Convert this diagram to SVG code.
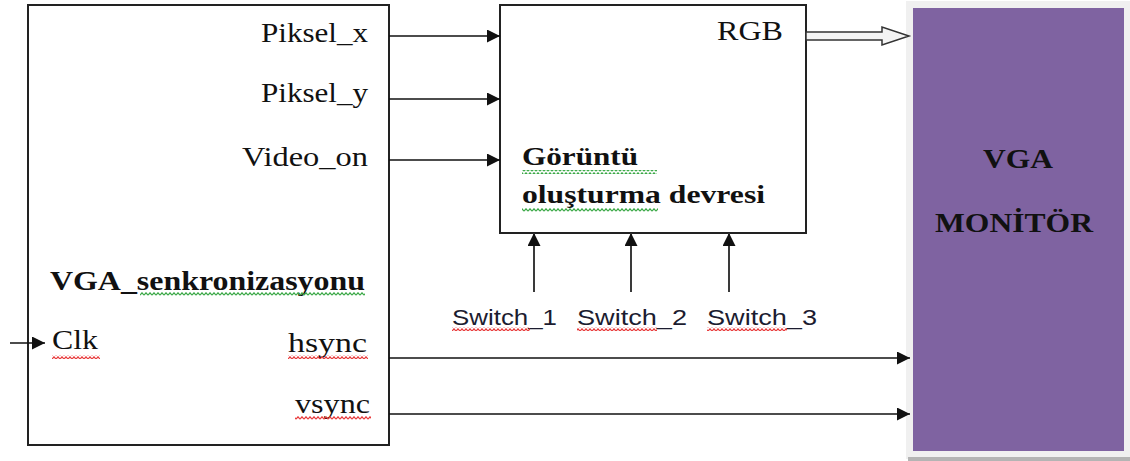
<svg xmlns="http://www.w3.org/2000/svg" width="1130" height="461" viewBox="0 0 1130 461">
  <style>
    .box { fill: #ffffff; stroke: #222222; stroke-width: 2; }
    .wire { fill: none; stroke: #111111; stroke-width: 1.6; }
    .swire { fill: none; stroke: #3a3a3a; stroke-width: 2; }
    .serif { font-family: "Liberation Serif", "Times New Roman", serif; fill: #111111; }
    .bold { font-weight: bold; }
    .sans { font-family: "Liberation Sans", Arial, sans-serif; fill: #1c1c30; font-size: 22px; }
  </style>
  <defs>
    <marker id="headBig" viewBox="0 0 10 10" refX="10" refY="5" markerWidth="15" markerHeight="13" markerUnits="userSpaceOnUse" orient="auto">
      <path d="M0,0 L10,5 L0,10 Z" fill="#111111"/>
    </marker>
    <!-- wavy proofing underlines -->
    <pattern id="waveRed" patternUnits="userSpaceOnUse" width="4" height="4">
      <path d="M0,3.2 L2,0.8 L4,3.2" fill="none" stroke="#e8393a" stroke-width="1.2"/>
    </pattern>
    <pattern id="waveGreen" patternUnits="userSpaceOnUse" width="4" height="4">
      <path d="M0,3.2 L2,0.8 L4,3.2" fill="none" stroke="#3aa846" stroke-width="1.2"/>
    </pattern>
  </defs>

  <!-- VGA sync generator block -->
  <g id="vga-sync">
    <rect class="box" x="28" y="5" width="361" height="440"/>
    <text class="serif" x="261" y="42" font-size="28" textLength="107" lengthAdjust="spacingAndGlyphs">Piksel_x</text>
    <text class="serif" x="261" y="102" font-size="28" textLength="107" lengthAdjust="spacingAndGlyphs">Piksel_y</text>
    <text class="serif" x="242" y="166" font-size="28" textLength="126" lengthAdjust="spacingAndGlyphs">Video_on</text>
    <text class="serif bold" x="50" y="290" font-size="28" textLength="315" lengthAdjust="spacingAndGlyphs">VGA_senkronizasyonu</text>
    <rect x="140" y="292" width="225" height="4" fill="url(#waveGreen)"/>
    <text class="serif" x="52" y="349" font-size="28" textLength="46" lengthAdjust="spacingAndGlyphs">Clk</text>
    <rect x="52" y="355" width="48" height="4" fill="url(#waveRed)"/>
    <text class="serif" x="288" y="352" font-size="28" textLength="79" lengthAdjust="spacingAndGlyphs">hsync</text>
    <rect x="288" y="355" width="80" height="4" fill="url(#waveRed)"/>
    <text class="serif" x="295" y="413" font-size="28" textLength="75" lengthAdjust="spacingAndGlyphs">vsync</text>
    <rect x="295" y="416" width="76" height="4" fill="url(#waveRed)"/>
  </g>

  <!-- image generation circuit -->
  <g id="image-gen">
    <rect class="box" x="500" y="5" width="306" height="228"/>
    <text class="serif" x="717" y="40" font-size="27" textLength="66" lengthAdjust="spacingAndGlyphs">RGB</text>
    <text class="serif bold" x="522" y="165" font-size="26" textLength="116" lengthAdjust="spacingAndGlyphs">Görüntü</text>
    <rect x="522" y="170" width="135" height="4" fill="url(#waveGreen)"/>
    <text class="serif bold" x="522" y="203" font-size="26" textLength="243" lengthAdjust="spacingAndGlyphs">oluşturma devresi</text>
    <rect x="522" y="208" width="136" height="4" fill="url(#waveGreen)"/>
  </g>

  <!-- VGA monitor -->
  <g id="vga-monitor">
    <rect x="906" y="1" width="224" height="458" fill="#f0f0f0"/>
    <rect x="908" y="457" width="222" height="4" fill="#b4b4b4"/>
    <rect x="913" y="8" width="211" height="443" fill="#7f63a1"/>
    <text class="serif bold" x="983" y="168" font-size="27" textLength="70" lengthAdjust="spacingAndGlyphs">VGA</text>
    <text class="serif bold" x="935" y="232" font-size="27" textLength="158" lengthAdjust="spacingAndGlyphs">MONİTÖR</text>
  </g>

  <!-- switch inputs -->
  <g id="switches">
    <text class="sans" x="452" y="325" textLength="105" lengthAdjust="spacingAndGlyphs">Switch_1</text>
    <rect x="452" y="327" width="78" height="4" fill="url(#waveRed)"/>
    <text class="sans" x="577" y="325" textLength="110" lengthAdjust="spacingAndGlyphs">Switch_2</text>
    <rect x="577" y="327" width="80" height="4" fill="url(#waveRed)"/>
    <text class="sans" x="707" y="325" textLength="110" lengthAdjust="spacingAndGlyphs">Switch_3</text>
    <rect x="707" y="327" width="80" height="4" fill="url(#waveRed)"/>
  </g>

  <!-- connectors -->
  <g id="connectors">
    <line class="wire" x1="389" y1="36" x2="500" y2="36" marker-end="url(#headBig)"/>
    <line class="wire" x1="389" y1="99" x2="500" y2="99" marker-end="url(#headBig)"/>
    <line class="wire" x1="389" y1="160" x2="500" y2="160" marker-end="url(#headBig)"/>
    <line class="wire" x1="10" y1="343" x2="45" y2="343" marker-end="url(#headBig)"/>
    <line class="wire" x1="389" y1="358" x2="910" y2="358" marker-end="url(#headBig)"/>
    <line class="wire" x1="389" y1="414" x2="910" y2="414" marker-end="url(#headBig)"/>
    <line class="swire" x1="534" y1="292" x2="534" y2="233" marker-end="url(#headBig)"/>
    <line class="swire" x1="631" y1="292" x2="631" y2="233" marker-end="url(#headBig)"/>
    <line class="swire" x1="729" y1="292" x2="729" y2="233" marker-end="url(#headBig)"/>
    <!-- hollow bus arrow for RGB -->
    <path d="M806,32 L882,32 L882,27 L909,36 L882,45 L882,40 L806,40 Z" fill="#f4f4f4" stroke="#333333" stroke-width="1.5" stroke-linejoin="miter"/>
  </g>
</svg>
